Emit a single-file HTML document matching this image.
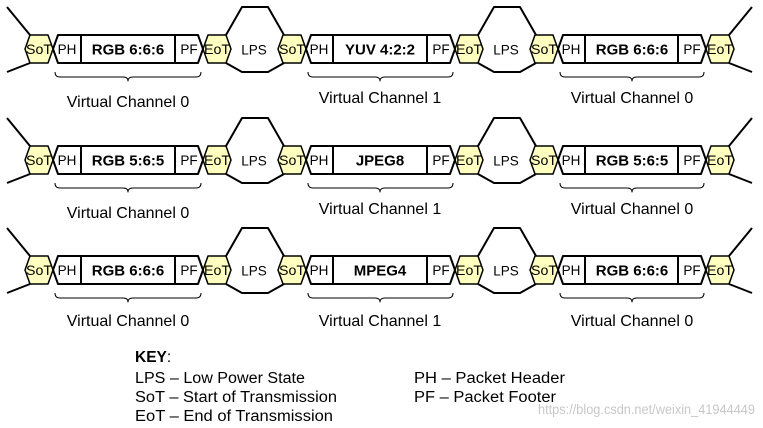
<!DOCTYPE html>
<html><head><meta charset="utf-8"><style>
html,body{margin:0;padding:0;background:#fff;}
svg{display:block;font-family:"Liberation Sans",sans-serif;}
</style></head><body>
<svg width="763" height="428" viewBox="0 0 763 428" xmlns="http://www.w3.org/2000/svg">
<defs>
<g id="row" stroke="#000" stroke-width="2" fill="none" stroke-linejoin="round">
  <path d="M7,7 L30,35 M7,72 L30,63 M729,35 L752,7 M729,63 L752,72"/>
  <path d="M226,35 L242,7 L268,7 L284,35 M226,63 L242,72 L268,72 L284,63"/>
  <path d="M478,35 L494,7 L520,7 L536,35 M478,63 L494,72 L520,72 L536,63"/>
  <g fill="#ffffc0" stroke-width="1.5">
    <polygon points="25,49 30,35 48,35 53,49 48,63 30,63"/>
    <polygon points="203,49 208,35 226,35 231,49 226,63 208,63"/>
    <polygon points="278,49 283,35 301,35 306,49 301,63 283,63"/>
    <polygon points="455,49 460,35 478,35 483,49 478,63 460,63"/>
    <polygon points="530,49 535,35 553,35 558,49 553,63 535,63"/>
    <polygon points="706,49 711,35 729,35 734,49 729,63 711,63"/>
  </g>
  <g fill="#fff">
    <polygon points="53,49 58,35 198,35 203,49 198,63 58,63"/>
    <polygon points="306,49 311,35 450,35 455,49 450,63 311,63"/>
    <polygon points="558,49 563,35 701,35 706,49 701,63 563,63"/>
  </g>
  <path d="M81,35 V63 M175,35 V63 M333,35 V63 M427,35 V63 M585,35 V63 M678,35 V63"/>
  <g stroke-width="1">
    <path d="M55,72 Q55,77 60,77 L123,77 Q128,77 128,81 Q128,77 133,77 L196,77 Q201,77 201,72"/>
    <path d="M308,72 Q308,77 313,77 L375,77 Q380,77 380,81 Q380,77 385,77 L448,77 Q453,77 453,72"/>
    <path d="M560,72 Q560,77 565,77 L627,77 Q632,77 632,81 Q632,77 637,77 L699,77 Q704,77 704,72"/>
  </g>
</g>
<g id="small" font-size="13.5" text-anchor="middle" fill="#000">
  <text x="39" y="54" textLength="26" lengthAdjust="spacingAndGlyphs">SoT</text><text x="67" y="54">PH</text><text x="189" y="54">PF</text><text x="217" y="54" textLength="26" lengthAdjust="spacingAndGlyphs">EoT</text>
  <text x="254" y="54.5">LPS</text>
  <text x="292" y="54" textLength="26" lengthAdjust="spacingAndGlyphs">SoT</text><text x="319" y="54">PH</text><text x="441" y="54">PF</text><text x="469" y="54" textLength="26" lengthAdjust="spacingAndGlyphs">EoT</text>
  <text x="506" y="54.5">LPS</text>
  <text x="544" y="54" textLength="26" lengthAdjust="spacingAndGlyphs">SoT</text><text x="571" y="54">PH</text><text x="692" y="54">PF</text><text x="720" y="54" textLength="26" lengthAdjust="spacingAndGlyphs">EoT</text>
</g>
</defs>

<use href="#row"/>
<use href="#row" transform="translate(0,111)"/>
<use href="#row" transform="translate(0,221)"/>
<use href="#small"/>
<use href="#small" transform="translate(0,111)"/>
<use href="#small" transform="translate(0,221)"/>

<g font-size="15" font-weight="bold" text-anchor="middle">
  <text x="128" y="54.5">RGB 6:6:6</text><text x="380" y="54.5">YUV 4:2:2</text><text x="632" y="54.5">RGB 6:6:6</text>
  <text x="128" y="165.5">RGB 5:6:5</text><text x="380" y="165.5">JPEG8</text><text x="632" y="165.5">RGB 5:6:5</text>
  <text x="128" y="275.5">RGB 6:6:6</text><text x="380" y="275.5">MPEG4</text><text x="632" y="275.5">RGB 6:6:6</text>
</g>
<g font-size="16" text-anchor="middle">
  <text x="128" y="107">Virtual Channel 0</text><text x="380" y="103">Virtual Channel 1</text><text x="632" y="103">Virtual Channel 0</text>
  <text x="128" y="218">Virtual Channel 0</text><text x="380" y="214">Virtual Channel 1</text><text x="632" y="214">Virtual Channel 0</text>
  <text x="128" y="326">Virtual Channel 0</text><text x="380" y="326">Virtual Channel 1</text><text x="632" y="326">Virtual Channel 0</text>
</g>
<g font-size="15.5">
  <text x="135" y="362"><tspan font-weight="bold">KEY</tspan>:</text>
  <text x="135" y="383" textLength="170" lengthAdjust="spacingAndGlyphs">LPS – Low Power State</text>
  <text x="135" y="402" textLength="202" lengthAdjust="spacingAndGlyphs">SoT – Start of Transmission</text>
  <text x="135" y="421" textLength="198" lengthAdjust="spacingAndGlyphs">EoT – End of Transmission</text>
  <text x="414" y="383" textLength="151" lengthAdjust="spacingAndGlyphs">PH – Packet Header</text>
  <text x="414" y="402" textLength="142" lengthAdjust="spacingAndGlyphs">PF – Packet Footer</text>
</g>
<text x="538" y="414" font-size="14" fill="#c8c8c8" textLength="217" lengthAdjust="spacingAndGlyphs">https://blog.csdn.net/weixin_41944449</text>
</svg>
</body></html>
